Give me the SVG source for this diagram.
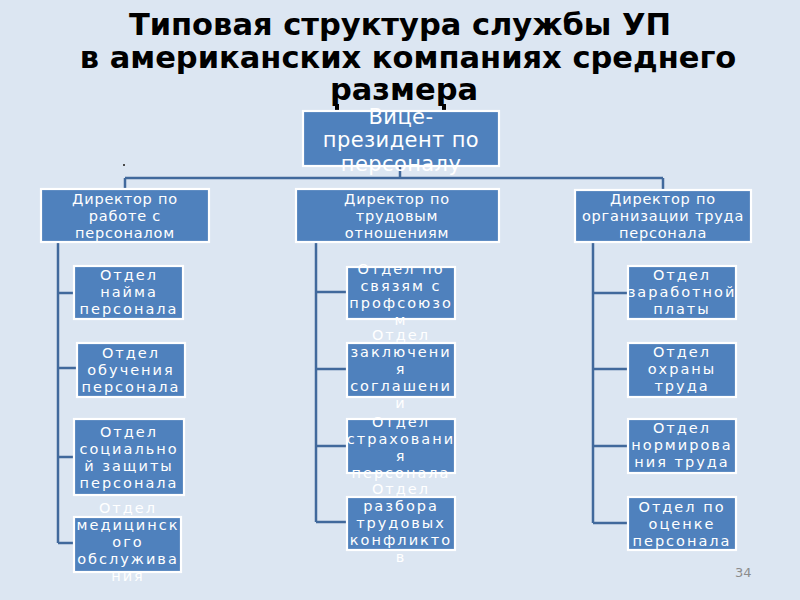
<svg xmlns="http://www.w3.org/2000/svg" width="800" height="600" viewBox="0 0 800 600">
<style>
.bg{fill:#dce6f2}
.title{font-family:"DejaVu Sans","Liberation Sans",sans-serif;font-weight:bold;font-size:30.5px;fill:#000;text-anchor:middle}
.box{fill:#4f81bd;stroke:#ffffff;stroke-width:2.2}
.t{font-family:"DejaVu Sans","Liberation Sans",sans-serif;fill:#fff;text-anchor:middle}
.vp{font-size:21px;letter-spacing:0.4px}
.dir{font-size:14.5px;letter-spacing:0.8px}
.ch{font-size:14.5px;letter-spacing:2px}
.con{fill:none;stroke:#41699c;stroke-width:2.5}
.pg{font-family:"DejaVu Sans","Liberation Sans",sans-serif;font-size:13px;fill:#8c8c8c}
</style>
<rect class="bg" x="0" y="0" width="800" height="600"/>
<g id="title">
<text class="title" x="400" y="35">Типовая структура службы УП</text>
<text class="title" x="408" y="68">в американских компаниях среднего</text>
<text class="title" x="404" y="100">размера</text>
</g>
<g id="connectors">
<path class="con" d="M400 166 V178 M125 178 H663 M125 178 V189 M663 178 V190"/>
<path class="con" d="M58 242 V543 M58 293 H74 M58 368 H77 M58 457 H74 M58 543 H74"/>
<path class="con" d="M316 242 V522 M316 292 H347 M316 369 H347 M316 446 H347 M316 522 H347"/>
<path class="con" d="M593 242 V523 M593 293 H628 M593 369 H628 M593 446 H628 M593 523 H628"/>
</g>
<g id="marks">
<rect x="335" y="104" width="4" height="7" fill="#000"/>
<rect x="442" y="104" width="4" height="7" fill="#000"/>
<rect x="123" y="164" width="2" height="2" fill="#4a4a4a"/>
</g>
<g id="vp">
<rect class="box" x="303" y="111" width="196" height="55"/>
<text class="t vp"><tspan x="401" y="124">Вице-</tspan><tspan x="401" y="147">президент по</tspan><tspan x="401" y="171">персоналу</tspan></text>
</g>
<g id="dir1">
<rect class="box" x="41" y="189" width="168" height="53"/>
<text class="t dir"><tspan x="125" y="204">Директор по</tspan><tspan x="125" y="221">работе с</tspan><tspan x="125" y="238">персоналом</tspan></text>
</g>
<g id="dir2">
<rect class="box" x="296" y="189" width="203" height="53"/>
<text class="t dir"><tspan x="397" y="204">Директор по</tspan><tspan x="397" y="221">трудовым</tspan><tspan x="397" y="238">отношениям</tspan></text>
</g>
<g id="dir3">
<rect class="box" x="575" y="190" width="176" height="52"/>
<text class="t dir"><tspan x="663" y="204">Директор по</tspan><tspan x="663" y="221">организации труда</tspan><tspan x="663" y="238">персонала</tspan></text>
</g>
<g id="c11">
<rect class="box" x="74" y="266" width="109" height="53"/>
<text class="t ch"><tspan x="129" y="280">Отдел</tspan><tspan x="129" y="297">найма</tspan><tspan x="129" y="314">персонала</tspan></text>
</g>
<g id="c12">
<rect class="box" x="77" y="343" width="108" height="54"/>
<text class="t ch"><tspan x="131" y="358">Отдел</tspan><tspan x="131" y="375">обучения</tspan><tspan x="131" y="392">персонала</tspan></text>
</g>
<g id="c13">
<rect class="box" x="74" y="419" width="110" height="76"/>
<text class="t ch"><tspan x="129" y="437">Отдел</tspan><tspan x="129" y="454">социально</tspan><tspan x="129" y="471">й защиты</tspan><tspan x="129" y="488">персонала</tspan></text>
</g>
<g id="c14">
<rect class="box" x="74" y="517" width="107" height="55"/>
<text class="t ch"><tspan x="128" y="513">Отдел</tspan><tspan x="128" y="530">медицинск</tspan><tspan x="128" y="547">ого</tspan><tspan x="128" y="564">обслужива</tspan><tspan x="128" y="581">ния</tspan></text>
</g>
<g id="c21">
<rect class="box" x="347" y="267" width="108" height="52"/>
<text class="t ch"><tspan x="401" y="274">Отдел по</tspan><tspan x="401" y="291">связям с</tspan><tspan x="401" y="308">профсоюзо</tspan><tspan x="401" y="325">м</tspan></text>
</g>
<g id="c22">
<rect class="box" x="347" y="343" width="108" height="54"/>
<text class="t ch"><tspan x="401" y="340">Отдел</tspan><tspan x="401" y="357">заключени</tspan><tspan x="401" y="374">я</tspan><tspan x="401" y="391">соглашени</tspan><tspan x="401" y="408">и</tspan></text>
</g>
<g id="c23">
<rect class="box" x="347" y="419" width="108" height="54"/>
<text class="t ch"><tspan x="401" y="427">Отдел</tspan><tspan x="401" y="444">страховани</tspan><tspan x="401" y="461">я</tspan><tspan x="401" y="478">персонала</tspan></text>
</g>
<g id="c24">
<rect class="box" x="347" y="497" width="108" height="53"/>
<text class="t ch"><tspan x="401" y="494">Отдел</tspan><tspan x="401" y="511">разбора</tspan><tspan x="401" y="528">трудовых</tspan><tspan x="401" y="545">конфликто</tspan><tspan x="401" y="562">в</tspan></text>
</g>
<g id="c31">
<rect class="box" x="628" y="266" width="108" height="53"/>
<text class="t ch"><tspan x="682" y="280">Отдел</tspan><tspan x="682" y="297">заработной</tspan><tspan x="682" y="314">платы</tspan></text>
</g>
<g id="c32">
<rect class="box" x="628" y="343" width="108" height="54"/>
<text class="t ch"><tspan x="682" y="357">Отдел</tspan><tspan x="682" y="374">охраны</tspan><tspan x="682" y="391">труда</tspan></text>
</g>
<g id="c33">
<rect class="box" x="628" y="419" width="108" height="54"/>
<text class="t ch"><tspan x="682" y="433">Отдел</tspan><tspan x="682" y="450">нормирова</tspan><tspan x="682" y="467">ния труда</tspan></text>
</g>
<g id="c34">
<rect class="box" x="628" y="497" width="108" height="53"/>
<text class="t ch"><tspan x="682" y="512">Отдел по</tspan><tspan x="682" y="529">оценке</tspan><tspan x="682" y="546">персонала</tspan></text>
</g>
<text class="pg" x="735" y="577">34</text>
</svg>
